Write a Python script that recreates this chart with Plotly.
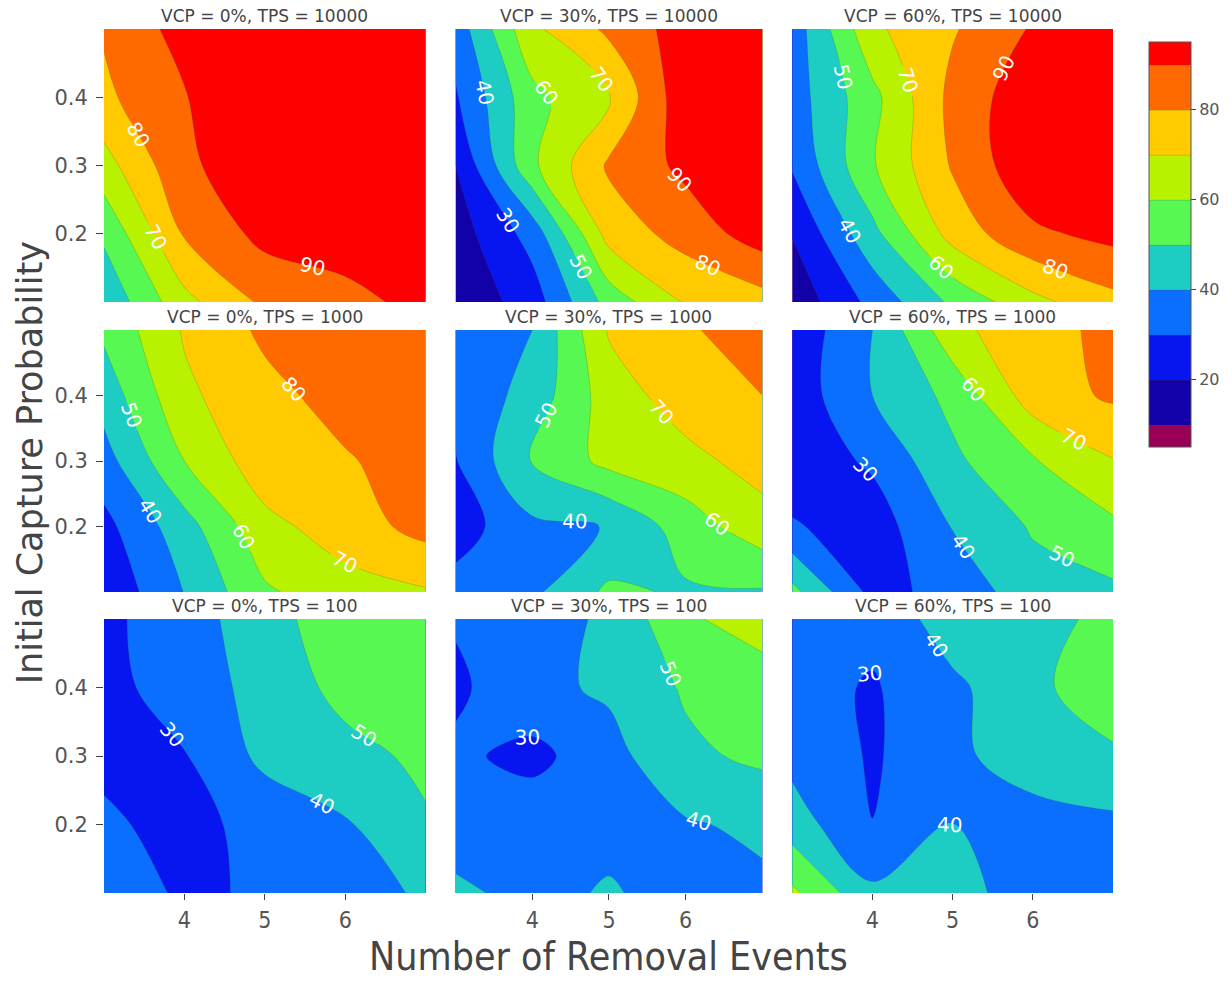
import plotly.graph_objects as go

# ---------------- data ----------------
removal_events = [3, 4, 5, 6, 7]
capture_prob = [0.1, 0.2, 0.3, 0.4, 0.5]

panel_titles = [
    "VCP = 0%, TPS = 10000", "VCP = 30%, TPS = 10000", "VCP = 60%, TPS = 10000",
    "VCP = 0%, TPS = 1000", "VCP = 30%, TPS = 1000", "VCP = 60%, TPS = 1000",
    "VCP = 0%, TPS = 100", "VCP = 30%, TPS = 100", "VCP = 60%, TPS = 100",
]

# rows: capture probability 0.1 -> 0.5 ; columns: removal events 3 -> 7
z_vcp0_tps10000 = [
    [42, 67, 82, 87, 93],
    [52, 81, 93, 95, 97],
    [66, 88, 97, 98, 98],
    [78, 89.5, 97, 98, 98],
    [81, 94, 97, 98, 98],
]
z_vcp30_tps10000 = [
    [12, 25, 54, 71, 76],
    [15, 34, 74, 84, 95],
    [20, 58, 81.5, 92.5, 96],
    [29, 57, 69.5, 97, 98],
    [34, 68, 82, 95, 98],
]
z_vcp60_tps10000 = [
    [13, 33, 52, 67, 77],
    [20.5, 47, 74, 88, 93],
    [31, 59, 81, 98, 99],
    [35, 57, 83, 97, 98],
    [34, 68, 79, 91, 96],
]
z_vcp0_tps1000 = [
    [22, 40.3, 58.5, 66, 69],
    [27, 46, 67, 75, 83.5],
    [36, 60, 76, 79, 85],
    [44, 68, 77, 84, 87],
    [52, 71, 82, 87, 88],
]
z_vcp30_tps1000 = [
    [34, 38, 52, 48.7, 49],
    [25, 38, 40.3, 55, 66],
    [29.5, 50.5, 63, 67, 74],
    [32, 44, 65, 75, 80],
    [35, 40, 71, 78, 88],
]
z_vcp60_tps1000 = [
    [53, 27, 33, 46, 48],
    [31, 25, 40.5, 51, 58],
    [24, 31.5, 48, 59, 69.5],
    [24, 40, 52.8, 75, 81.5],
    [23, 40, 67, 77, 82],
]
z_vcp0_tps100 = [
    [33, 29.2, 30.6, 37, 41],
    [31.5, 27, 33.25, 39, 49],
    [28, 29.5, 42.5, 47, 52],
    [27, 34.5, 43.7, 53.1, 56],
    [28, 35, 46.4, 55.6, 58],
]
z_vcp30_tps100 = [
    [42, 37, 41, 36, 38],
    [35, 36.6, 37, 39, 42],
    [32, 27, 36.6, 48, 52],
    [28, 37.5, 41.5, 51.2, 55],
    [31, 36, 41.5, 58.5, 64.75],
]
z_vcp60_tps100 = [
    [62, 42, 47, 31, 33],
    [45, 30.1, 40.3, 33, 38],
    [37, 29, 36.3, 48.6, 48],
    [34, 29, 38, 47, 58],
    [35, 33, 45, 46, 53],
]

panels = [
    z_vcp0_tps10000, z_vcp30_tps10000, z_vcp60_tps10000,
    z_vcp0_tps1000, z_vcp30_tps1000, z_vcp60_tps1000,
    z_vcp0_tps100, z_vcp30_tps100, z_vcp60_tps100,
]

x_ticks = [4, 5, 6]
y_ticks = [0.2, 0.3, 0.4]
cbar_ticks = [20, 40, 60, 80]

band_colors = ["#990055", "#1200a8", "#0716f0", "#0a6eff", "#1dcdc3",
               "#57f852", "#b8f200", "#ffcb00", "#ff6a00", "#ff0000"]

# ---------------- layout geometry ----------------
W, H = 1232, 983
L, R, T, B = 104, 1117, 29, 893
PW, PH = R - L, B - T
col_px = [(104, 427), (457, 765), (795, 1117)]
row_px = [(29, 302), (330, 592), (619, 893)]
col_dom = [[(a - L) / PW, (b - L) / PW] for a, b in col_px]
row_dom = [[(B - b) / PH, (B - a) / PH] for a, b in row_px]

colorscale = [[i / 9, c] for i, c in enumerate(band_colors)]
font_main = "DejaVu Sans, Verdana, sans-serif"
cond_font = "DejaVu Sans Condensed, Liberation Sans Narrow, DejaVu Sans, sans-serif"

fig = go.Figure()
layout = dict(
    width=W, height=H,
    margin=dict(l=L, r=W - R, t=T, b=H - B, pad=0),
    paper_bgcolor="white", plot_bgcolor="white",
    font=dict(family=font_main, color="#444", size=14),
    showlegend=False,
)
annotations = []
for k, z in enumerate(panels):
    r, c = divmod(k, 3)
    idx = k + 1
    sfx = "" if idx == 1 else str(idx)
    fig.add_trace(go.Contour(
        x=removal_events, y=capture_prob, z=z,
        xaxis="x" + sfx, yaxis="y" + sfx,
        colorscale=colorscale,
        autocontour=False,
        contours=dict(start=10, end=90, size=10, coloring="fill",
                      showlabels=True,
                      labelfont=dict(size=20, color="white", family=font_main)),
        line=dict(width=0.5, color="rgba(70,70,70,0.45)"),
        showscale=(k == 0),
        colorbar=dict(
            x=(1153 - L) / PW, xanchor="left", xpad=0,
            y=(B - 42) / PH, yanchor="top", ypad=0,
            lenmode="pixels", len=405,
            thicknessmode="pixels", thickness=42,
            outlinewidth=1, outlinecolor="#555",
            tickvals=cbar_ticks, ticks="outside", ticklen=5, tickcolor="#444",
            tickfont=dict(size=16, color="#555", family=font_main),
        ),
        hoverinfo="skip",
    ))
    layout["xaxis" + sfx] = dict(
        domain=col_dom[c], anchor="y" + sfx, range=[3, 7],
        showgrid=False, zeroline=False, showline=False,
        tickvals=x_ticks, ticks="outside" if r == 2 else "",
        ticklen=6, tickcolor="#444",
        showticklabels=(r == 2),
        tickfont=dict(size=23, color="#555", family=cond_font),
    )
    layout["yaxis" + sfx] = dict(
        domain=row_dom[r], anchor="x" + sfx, range=[0.1, 0.5],
        showgrid=False, zeroline=False, showline=False,
        tickvals=y_ticks, ticks="outside" if c == 0 else "",
        ticklen=7, tickcolor="#444",
        showticklabels=(c == 0),
        ticklabelstandoff=4,
        tickfont=dict(size=21, color="#555", family=font_main),
    )
    annotations.append(dict(
        text=panel_titles[k], xref="paper", yref="paper",
        x=sum(col_dom[c]) / 2, y=row_dom[r][1], xanchor="center", yanchor="bottom",
        yshift=1, showarrow=False, font=dict(size=17, color="#444", family=font_main),
    ))

annotations.append(dict(
    text="Number of Removal Events", xref="paper", yref="paper",
    x=(611 - L) / PW, y=(B - 956) / PH, xanchor="center", yanchor="middle",
    showarrow=False, font=dict(size=39, color="#444", family=cond_font),
))
annotations.append(dict(
    text="Initial Capture Probability", xref="paper", yref="paper",
    x=(30 - L) / PW, y=(B - 463) / PH, xanchor="center", yanchor="middle",
    textangle=-90, showarrow=False, font=dict(size=35, color="#444", family=font_main),
))
layout["annotations"] = annotations
fig.update_layout(**layout)
fig.write_html("out.html")
